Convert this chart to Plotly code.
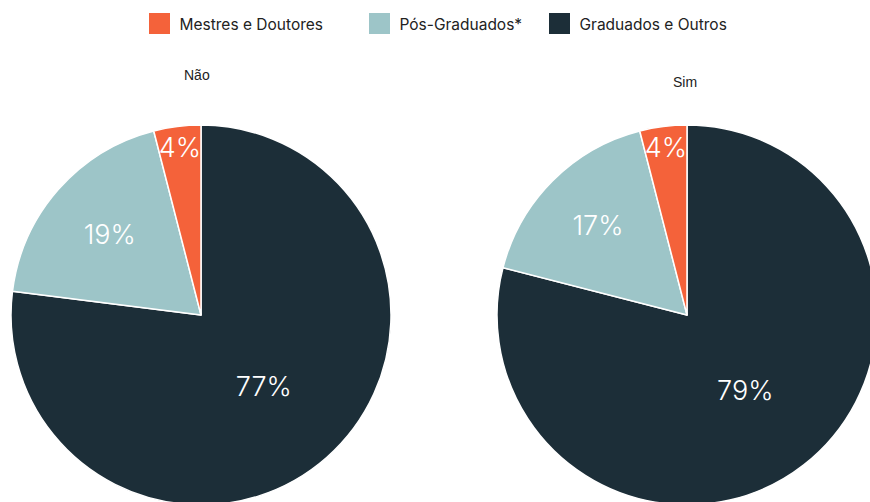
import plotly.graph_objects as go

# Distribution of academic qualification by group
categories = ["Mestres e Doutores", "Pós-Graduados*", "Graduados e Outros"]
groups = ["Não", "Sim"]
values_nao = [4, 19, 77]
values_sim = [4, 17, 79]

colors = ["#F4623A", "#9DC5C8", "#1C2E38"]

W, H = 880, 510

def dom_x(left, right):
    return [left / W, right / W]

def dom_y(top, bottom):
    return [1 - bottom / H, 1 - top / H]

fig = go.Figure()

# Slices drawn clockwise from 12 o'clock, largest category first
order = [2, 1, 0]

def pie(vals, name, dx, dy):
    return go.Pie(
        labels=[categories[i] for i in order],
        values=[vals[i] for i in order],
        name=name,
        domain=dict(x=dx, y=dy),
        sort=False,
        direction="clockwise",
        rotation=0,
        marker=dict(colors=[colors[i] for i in order], line=dict(color="white", width=1.5)),
        texttemplate="%{value}%",
        textposition="inside",
        insidetextorientation="horizontal",
        textfont=dict(family="Inter", size=27, color="white", weight=300),
        showlegend=False,
        hoverinfo="label+percent",
    )

fig.add_trace(pie(values_nao, groups[0], dom_x(11, 391), dom_y(125, 505)))
fig.add_trace(pie(values_sim, groups[1], dom_x(497, 877), dom_y(125, 505)))

# Legend entries with larger square swatches, one legend box per entry
legend_names = ["legend", "legend2", "legend3"]
swatch_left = [150, 370, 550]
for cat, col, lg in zip(categories, colors, legend_names):
    fig.add_trace(go.Scatter(
        x=[None], y=[None], mode="markers", name=cat, legend=lg,
        marker=dict(symbol="square", size=16, color=col, line=dict(color=col, width=5)),
        showlegend=True, hoverinfo="skip",
    ))

legend_style = dict(
    orientation="h", xanchor="left", yanchor="top", y=1 - 7 / H,
    font=dict(family="Inter", size=15.5, color="#222222"),
    itemclick=False, itemdoubleclick=False, bgcolor="rgba(0,0,0,0)",
)

# Group titles above each pie
for name, cx, cy in [(groups[0], 197, 75), (groups[1], 685, 82)]:
    fig.add_annotation(text=name, x=cx / W, y=1 - cy / H, xref="paper", yref="paper",
                       showarrow=False, xanchor="center", yanchor="middle",
                       font=dict(family="Liberation Sans, Arial", size=14, color="#222222"))

fig.update_layout(
    width=W, height=H,
    margin=dict(l=0, r=0, t=0, b=0),
    paper_bgcolor="white", plot_bgcolor="white",
    xaxis=dict(visible=False), yaxis=dict(visible=False),
    uniformtext=dict(minsize=27, mode="show"),
    **{lg: dict(x=(sx - 10.5) / W, **legend_style) for lg, sx in zip(legend_names, swatch_left)},
)

fig.write_html(
    "out.html",
    post_script="document.documentElement.style.overflow='hidden';"
                "document.body.style.overflow='hidden';document.body.style.margin='0';",
)
